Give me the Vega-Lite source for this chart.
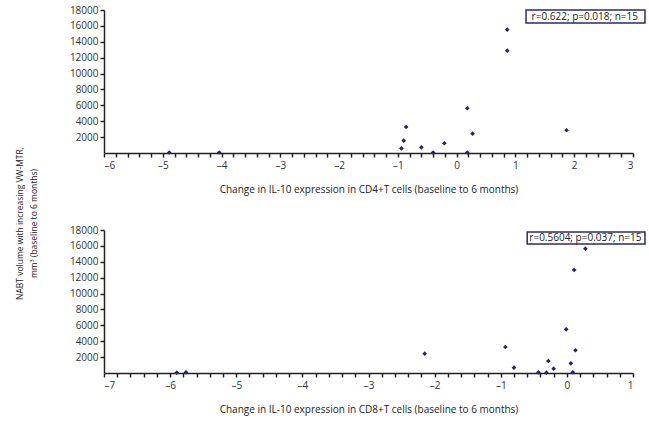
{
  "$schema": "https://vega.github.io/schema/vega-lite/v6.json",
  "background": "white",
  "padding": {"left": 15, "top": 5, "right": 0, "bottom": 50},
  "bounds": "flush",
  "spacing": 77,
  "config": {
    "view": {"stroke": null},
    "font": "Open Sans",
    "axis": {
      "domainColor": "#222", "domainWidth": 1.5,
      "tickColor": "#222", "tickWidth": 1.5, "tickSize": 4,
      "labelColor": "#333", "labelFontSize": 10, "labelFont": "Open Sans",
      "labelOverlap": false,
      "tickCount": 100,
      "grid": false,
      "titleFontWeight": "normal", "titleColor": "#222", "titleFontSize": 10, "titleFont": "Open Sans"
    }
  },
  "datasets": {
    "cd4": [
      {"change": -4.89, "volume": 60},
      {"change": -4.04, "volume": 60},
      {"change": -0.94, "volume": 590},
      {"change": -0.90, "volume": 1550},
      {"change": -0.86, "volume": 3270},
      {"change": -0.60, "volume": 720},
      {"change": -0.40, "volume": 60},
      {"change": -0.21, "volume": 1230},
      {"change": 0.18, "volume": 60},
      {"change": 0.18, "volume": 5630},
      {"change": 0.27, "volume": 2430},
      {"change": 0.86, "volume": 12880},
      {"change": 0.86, "volume": 15520},
      {"change": 1.87, "volume": 2860}
    ],
    "cd8": [
      {"change": -5.90, "volume": 40},
      {"change": -5.76, "volume": 90},
      {"change": -2.15, "volume": 2430},
      {"change": -0.93, "volume": 3270},
      {"change": -0.80, "volume": 670},
      {"change": -0.43, "volume": 90},
      {"change": -0.31, "volume": 40},
      {"change": -0.28, "volume": 1510},
      {"change": -0.20, "volume": 540},
      {"change": -0.01, "volume": 5500},
      {"change": 0.06, "volume": 1220},
      {"change": 0.09, "volume": 90},
      {"change": 0.13, "volume": 2860},
      {"change": 0.11, "volume": 12970},
      {"change": 0.28, "volume": 15650}
    ]
  },
  "vconcat": [
    {
      "width": 529, "height": 143,
      "layer": [
        {
          "data": {"name": "cd4"},
          "mark": {"type": "point", "shape": "diamond", "filled": true, "size": 22, "color": "#25256b", "opacity": 1},
          "encoding": {
            "x": {
              "field": "change", "type": "quantitative",
              "scale": {"domain": [-6, 3], "nice": false, "zero": false},
              "axis": {
                "title": "Change in IL-10 expression in CD4+T cells (baseline to 6 months)",
                "values": [-6, -5.8, -5.6, -5.4, -5.2, -5, -4.8, -4.6, -4.4, -4.2, -4, -3.8, -3.6, -3.4, -3.2, -3, -2.8, -2.6, -2.4, -2.2, -2, -1.8, -1.6, -1.4, -1.2, -1, -0.8, -0.6, -0.4, -0.2, 0, 0.2, 0.4, 0.6, 0.8, 1, 1.2, 1.4, 1.6, 1.8, 2, 2.2, 2.4, 2.6, 2.8, 3],
                "tickCount": 100,
                "labelExpr": "abs(datum.value - round(datum.value)) < 0.01 ? replace(format(datum.value, 'd'), '\u2212', '\u2013') : ''",
                "labelOverlap": false,
                "labelPadding": 3,
                "titlePadding": 14
              }
            },
            "y": {
              "field": "volume", "type": "quantitative",
              "scale": {"domain": [0, 18000], "nice": false},
              "axis": {
                "values": [2000, 4000, 6000, 8000, 10000, 12000, 14000, 16000, 18000],
                "tickCount": 100,
                "format": "d",
                "labelOverlap": false,
                "title": ["NABT volume with increasing VW-MTR,", "mm\u00b3 (baseline to 6 months)"],
                "titleFontSize": 8.5,
                "titleLineHeight": 14,
                "titleX": -80,
                "titleY": 213,
                "titleAlign": "center",
                "titleAngle": -90
              }
            }
          }
        },
        {
          "data": {"values": [{}]},
          "mark": {"type": "rect", "fill": "white", "stroke": "#2b2b6b", "strokeWidth": 1.5, "clip": false, "x2Offset": 12},
          "encoding": {
            "x": {"datum": 1.18, "type": "quantitative"},
            "x2": {"datum": 3},
            "y": {"datum": 18000, "type": "quantitative"},
            "y2": {"datum": 16364}
          }
        },
        {
          "data": {"values": [{}]},
          "mark": {"type": "text", "fontSize": 10, "color": "#222", "font": "Open Sans"},
          "encoding": {
            "x": {"datum": 2.18, "type": "quantitative"},
            "y": {"datum": 17180, "type": "quantitative"},
            "text": {"value": "r=0.622; p=0.018; n=15"}
          }
        }
      ]
    },
    {
      "width": 529, "height": 143,
      "layer": [
        {
          "data": {"name": "cd8"},
          "mark": {"type": "point", "shape": "diamond", "filled": true, "size": 22, "color": "#25256b", "opacity": 1},
          "encoding": {
            "x": {
              "field": "change", "type": "quantitative",
              "scale": {"domain": [-7, 1], "nice": false, "zero": false},
              "axis": {
                "title": "Change in IL-10 expression in CD8+T cells (baseline to 6 months)",
                "values": [-7, -6.8, -6.6, -6.4, -6.2, -6, -5.8, -5.6, -5.4, -5.2, -5, -4.8, -4.6, -4.4, -4.2, -4, -3.8, -3.6, -3.4, -3.2, -3, -2.8, -2.6, -2.4, -2.2, -2, -1.8, -1.6, -1.4, -1.2, -1, -0.8, -0.6, -0.4, -0.2, 0, 0.2, 0.4, 0.6, 0.8, 1],
                "tickCount": 100,
                "labelExpr": "abs(datum.value - round(datum.value)) < 0.01 ? replace(format(datum.value, 'd'), '\u2212', '\u2013') : ''",
                "labelOverlap": false,
                "labelPadding": 3,
                "titlePadding": 14
              }
            },
            "y": {
              "field": "volume", "type": "quantitative",
              "scale": {"domain": [0, 18000], "nice": false},
              "axis": {
                "values": [2000, 4000, 6000, 8000, 10000, 12000, 14000, 16000, 18000],
                "tickCount": 100,
                "format": "d",
                "labelOverlap": false,
                "title": null
              }
            }
          }
        },
        {
          "data": {"values": [{}]},
          "mark": {"type": "rect", "fill": "white", "stroke": "#2b2b6b", "strokeWidth": 1.5, "clip": false, "x2Offset": 12},
          "encoding": {
            "x": {"datum": -0.6, "type": "quantitative"},
            "x2": {"datum": 1},
            "y": {"datum": 17750, "type": "quantitative"},
            "y2": {"datum": 16240}
          }
        },
        {
          "data": {"values": [{}]},
          "mark": {"type": "text", "fontSize": 10, "color": "#222", "font": "Open Sans"},
          "encoding": {
            "x": {"datum": 0.28, "type": "quantitative"},
            "y": {"datum": 17000, "type": "quantitative"},
            "text": {"value": "r=0.5604; p=0.037; n=15"}
          }
        }
      ]
    }
  ]
}
